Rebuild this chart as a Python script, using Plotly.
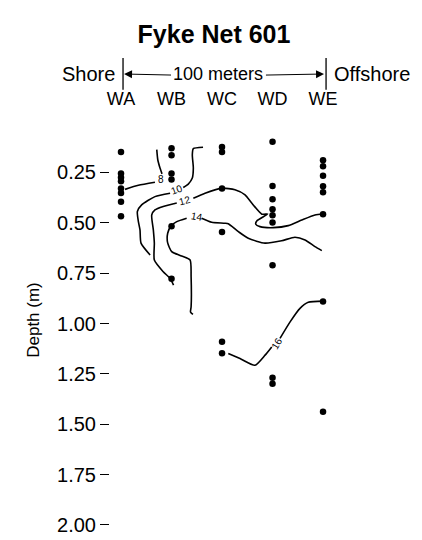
import plotly.graph_objects as go

# Stations along the transect (distance from shore, m)
station_labels = ["WA", "WB", "WC", "WD", "WE"]
station_dist = [0, 25, 50, 75, 100]

# Sample depths (m) at each station
wa_depths = [0.148, 0.255, 0.275, 0.294, 0.330, 0.352, 0.396, 0.468]
wb_depths = [0.130, 0.165, 0.255, 0.285, 0.517, 0.778]
wc_depths = [0.124, 0.149, 0.330, 0.546, 1.090, 1.148]
wd_depths = [0.098, 0.317, 0.383, 0.433, 0.463, 0.499, 0.711, 1.269, 1.299]
we_depths = [0.189, 0.219, 0.267, 0.318, 0.348, 0.458, 0.891, 1.438]

# Depth axis ticks
depth_ticks = [0.25, 0.50, 0.75, 1.00, 1.25, 1.50, 1.75, 2.00]
depth_tick_labels = ["0.25", "0.50", "0.75", "1.00", "1.25", "1.50", "1.75", "2.00"]

# Isolines (distance m, depth m); None = gap for label
iso8_x = [17.7, 18.2, 19.3, 20.3, None, 16.8, 8.6, 2.0]
iso8_d = [0.137, 0.187, 0.228, 0.257, None, 0.299, 0.314, 0.334]

iso10_x = [40.6, 35.8, 35.3, 35.8, 35.3, 33.3, 30.8, None, 24.3, 16.8, 10.2, 8.1, 8.6, 9.4, 9.9, 14.4]
iso10_d = [0.125, 0.132, 0.162, 0.228, 0.278, 0.308, 0.325, None, 0.353, 0.370, 0.411, 0.444, 0.494, 0.535, 0.601, 0.660]

iso12_x = [26.0, 24.3, 20.9, 16.5, 16.5, 16.0, 15.2, 16.8, 20.9, 27.6, None,
           35.8, 41.6, 49.9, 56.4, 61.4, 64.7, 69.7, 72.6, 67.2, 66.7, 68.8, 75.4, 82.8, 89.5, 96.0, 100.1]
iso12_d = [0.809, 0.776, 0.743, 0.685, 0.601, 0.535, 0.461, 0.436, 0.419, 0.402, None,
           0.378, 0.353, 0.328, 0.336, 0.361, 0.402, 0.457, 0.456, 0.491, 0.507, 0.519, 0.524, 0.514, 0.486, 0.461, 0.456]

iso14_x = [35.6, 34.4, 34.7, 34.7, 34.2, 30.0, 25.1, 23.1, 23.1, 24.8, 27.6, 32.5, None,
           39.9, 44.9, 51.5, 53.1, 58.1, 63.0, 71.3, 79.5, 86.1, 91.1, 96.0, 99.4]
iso14_d = [0.955, 0.943, 0.917, 0.768, 0.685, 0.665, 0.643, 0.600, 0.552, 0.515, 0.494, 0.477, None,
           0.477, 0.497, 0.502, 0.505, 0.544, 0.577, 0.601, 0.589, 0.572, 0.585, 0.618, 0.638]

iso16_x = [53.1, 58.9, 66.3, 71.3, 74.6, None, 78.7, 83.7, 88.6, 92.7, 100.1]
iso16_d = [1.149, 1.174, 1.207, 1.157, 1.116, None, 1.074, 0.992, 0.925, 0.895, 0.889]

iso_labels = ["8", "10", "12", "14", "16"]
iso_label_x = [19.8, 27.7, 31.7, 37.6, 77.1]
iso_label_d = [0.287, 0.336, 0.391, 0.471, 1.099]
iso_label_angle = [0, -20, -15, 10, -60]

fig = go.Figure()

for xs, ds in [(iso8_x, iso8_d), (iso10_x, iso10_d), (iso12_x, iso12_d),
               (iso14_x, iso14_d), (iso16_x, iso16_d)]:
    fig.add_trace(go.Scatter(x=xs, y=ds, mode="lines", connectgaps=False,
                             line=dict(color="black", width=1.6, shape="spline", smoothing=0.6),
                             hoverinfo="skip", showlegend=False))

for dist, depths in zip(station_dist, [wa_depths, wb_depths, wc_depths, wd_depths, we_depths]):
    fig.add_trace(go.Scatter(x=[dist] * len(depths), y=depths, mode="markers",
                             marker=dict(color="black", size=6.5),
                             showlegend=False))

for t, x, d, a in zip(iso_labels, iso_label_x, iso_label_d, iso_label_angle):
    fig.add_annotation(x=x, y=d, xref="x", yref="y", text=t, showarrow=False,
                       textangle=a, font=dict(size=10, color="black"))

font_main = "Liberation Sans, Arial, sans-serif"
# header row (paper coords above plot area)
hdr_y = 1.0857
bar_y0, bar_y1 = 1.048, 1.124

fig.add_annotation(x=-2, y=hdr_y, xref="x", yref="paper", text="Shore", showarrow=False,
                   xanchor="right", yanchor="middle", font=dict(size=20, color="black"))
fig.add_annotation(x=104.5, y=hdr_y, xref="x", yref="paper", text="Offshore", showarrow=False,
                   xanchor="left", yanchor="middle", font=dict(size=20, color="black"))
fig.add_annotation(x=48, y=hdr_y, xref="x", yref="paper", text="100 meters", showarrow=False,
                   yanchor="middle", font=dict(size=18, color="black"))
# arrows
fig.add_annotation(x=1.5, y=hdr_y, ax=25.5, ay=hdr_y, xref="x", yref="paper", axref="x", ayref="pixel",
                   text="", showarrow=True, arrowhead=2, arrowsize=1.6, arrowwidth=1, arrowcolor="black")
fig.add_annotation(x=100.5, y=hdr_y, ax=71, ay=hdr_y, xref="x", yref="paper", axref="x", ayref="pixel",
                   text="", showarrow=True, arrowhead=2, arrowsize=1.6, arrowwidth=1, arrowcolor="black")
fig.add_shape(type="line", xref="x", yref="paper", x0=1, x1=1, y0=bar_y0, y1=bar_y1,
              line=dict(color="black", width=1.3))
fig.add_shape(type="line", xref="x", yref="paper", x0=101.5, x1=101.5, y0=bar_y0, y1=bar_y1,
              line=dict(color="black", width=1.3))

# page body has an 8px margin; figure sized to fit the 422x540 window
fig.update_layout(
    width=414, height=532,
    margin=dict(l=102, r=22, t=102, b=10),
    paper_bgcolor="white", plot_bgcolor="white",
    font=dict(family=font_main, color="black", size=18),
    title=dict(text="<b>Fyke Net 601</b>", x=206 / 414, xref="container", xanchor="center",
               y=1 - 26 / 532, yref="container", yanchor="middle",
               font=dict(size=25, color="black")),
    xaxis=dict(range=[-5.45, 138.1], side="top", tickvals=station_dist, ticktext=station_labels,
               showgrid=False, zeroline=False, showline=False, ticks="",
               tickfont=dict(size=18), automargin=False),
    yaxis=dict(range=[2.025, -0.06], tickvals=depth_ticks, ticktext=depth_tick_labels,
               showgrid=False, zeroline=False, showline=False,
               ticks="outside", ticklen=9, tickwidth=1.3, tickcolor="black",
               tickfont=dict(size=20), automargin=False,
               title=dict(text="Depth (m)", font=dict(size=17), standoff=13)),
)

fig.write_html("out.html")
